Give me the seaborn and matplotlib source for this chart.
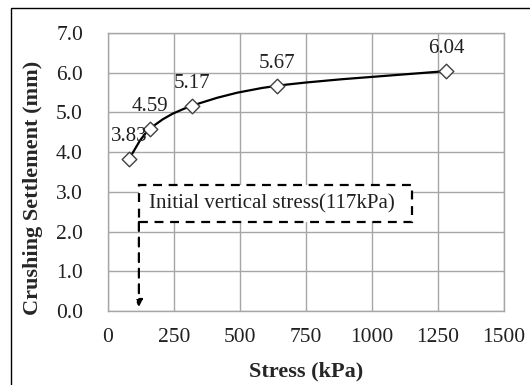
import numpy as np
import matplotlib
matplotlib.use("Agg")
import matplotlib.pyplot as plt
from matplotlib.path import Path
from matplotlib.patches import PathPatch, Rectangle
import pandas as pd
import seaborn as sns

# Loading steps and measured crushing settlement
stress_kpa = [80, 160, 320, 640, 1280]
settlement_mm = [3.83, 4.59, 5.17, 5.67, 6.04]
initial_stress = 117
box_text = "Initial vertical stress(117kPa)"
x_ticks = [0, 250, 500, 750, 1000, 1250, 1500]
y_ticks = [0.0, 1.0, 2.0, 3.0, 4.0, 5.0, 6.0, 7.0]

df = pd.DataFrame({"stress": stress_kpa, "settlement": settlement_mm})

sns.set_theme(style="white")
plt.rcParams["font.family"] = ["Liberation Serif", "DejaVu Serif"]

W, H = 530, 385
fig = plt.figure(figsize=(W / 100, H / 100), dpi=100)
ax = fig.add_axes([108 / W, (H - 311) / H, 396 / W, 278 / H])

# outer chart frame
fig.patches.append(Rectangle((11 / W, -0.1), 1.2, (H - 8) / H + 0.1,
                             transform=fig.transFigure, fill=False,
                             edgecolor="black", linewidth=1.0))

grid_c = "#a6a6a6"
ax.set_xlim(0, 1500)
ax.set_ylim(0, 7)
ax.set_xticks(x_ticks)
ax.set_yticks(y_ticks)
ax.set_xticklabels([str(t) for t in x_ticks])
ax.set_yticklabels([f"{t:.1f}" for t in y_ticks])
ax.grid(True, color=grid_c, linewidth=1.0)
ax.set_axisbelow(True)
for s in ax.spines.values():
    s.set_color(grid_c)
    s.set_linewidth(1.0)
ax.tick_params(axis="both", length=0, labelsize=15.5, colors="#202020")
ax.tick_params(axis="y", pad=18)
ax.tick_params(axis="x", pad=12)

# smoothed curve through the points (Catmull-Rom converted to cubic Bezier)
pts = np.column_stack([df["stress"], df["settlement"]]).astype(float)
ext = np.vstack([pts[0], pts, pts[-1]])
verts = [tuple(pts[0])]
codes = [Path.MOVETO]
for i in range(1, len(ext) - 2):
    p0, p1, p2, p3 = ext[i - 1], ext[i], ext[i + 1], ext[i + 2]
    c1 = p1 + (p2 - p0) / 6.0
    c2 = p2 - (p3 - p1) / 6.0
    verts += [tuple(c1), tuple(c2), tuple(p2)]
    codes += [Path.CURVE4] * 3
ax.add_patch(PathPatch(Path(verts, codes), facecolor="none",
                       edgecolor="black", linewidth=1.6, zorder=3))

sns.scatterplot(data=df, x="stress", y="settlement", marker="D", s=55,
                facecolor="white", edgecolor="#404040", linewidth=1.0,
                zorder=4, ax=ax)

for x, y in zip(stress_kpa, settlement_mm):
    ax.annotate(f"{y:.2f}", (x, y), xytext=(0, 16), textcoords="offset points",
                ha="center", va="center", fontsize=15, color="#202020",
                zorder=5)

# initial stress annotation box with arrow down to the axis
box_x0, box_x1 = initial_stress, 1151
box_y0, box_y1 = 2.24, 3.17
ax.add_patch(Rectangle((box_x0, box_y0), box_x1 - box_x0, box_y1 - box_y0,
                       facecolor="white", edgecolor="black", linewidth=1.6,
                       linestyle=(0, (4, 3)), zorder=3))
ax.text(box_x0 + 40, (box_y0 + box_y1) / 2, box_text, ha="left", va="center",
        fontsize=15, color="#202020", zorder=4)
ax.annotate("", xy=(initial_stress, 0.1), xytext=(initial_stress, box_y0),
            arrowprops=dict(arrowstyle="-|>", color="black", linewidth=1.6,
                            linestyle=(0, (4, 3)), mutation_scale=10,
                            shrinkA=0, shrinkB=0), zorder=3)

ax.set_xlabel("Stress (kPa)", fontsize=16, fontweight="bold")
ax.set_ylabel("Crushing Settlement (mm)", fontsize=16, fontweight="bold")
ax.xaxis.set_label_coords(0.5, -0.183)
ax.yaxis.set_label_coords(-0.164, 0.443)

fig.savefig("out.png", dpi=100)
